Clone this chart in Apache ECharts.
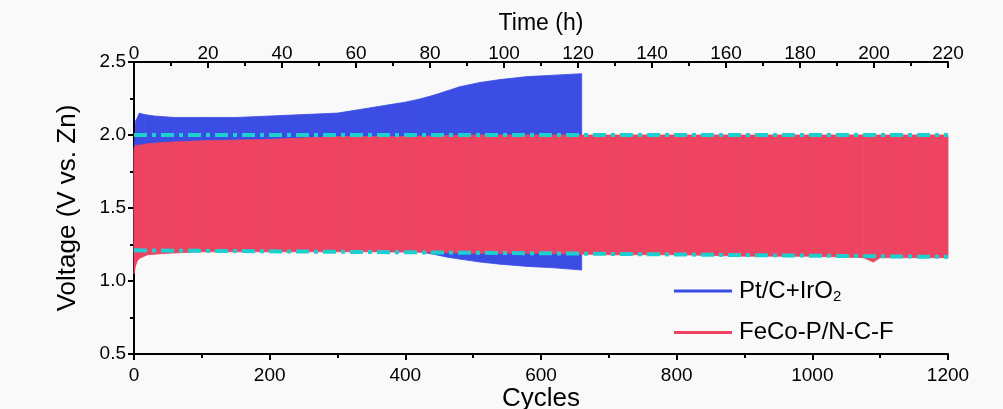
<!DOCTYPE html>
<html>
<head>
<meta charset="utf-8">
<script src="https://cdn.jsdelivr.net/npm/echarts@6/dist/echarts.min.js"></script>
<style>
html,body{margin:0;padding:0;background:#f9f9f9;}
#c{width:1003px;height:409px;}
</style>
</head>
<body>
<div id="c"></div>
<script>
// ---- data ----
const blueX     = [0, 3, 8, 15, 30, 60, 100, 150, 200, 250, 300, 340, 380, 400, 420, 440, 460, 480, 510, 540, 580, 620, 660];
const blueUpper = [1.90, 2.10, 2.15, 2.14, 2.13, 2.12, 2.12, 2.12, 2.13, 2.14, 2.15, 2.18, 2.21, 2.225, 2.245, 2.27, 2.30, 2.33, 2.36, 2.38, 2.40, 2.41, 2.42];
const blueLower = [1.20, 1.20, 1.20, 1.20, 1.20, 1.21, 1.21, 1.21, 1.21, 1.21, 1.21, 1.21, 1.20, 1.20, 1.20, 1.185, 1.165, 1.15, 1.13, 1.115, 1.10, 1.09, 1.075];

const redX     = [0, 2, 5, 10, 20, 50, 100, 200, 300, 400, 500, 600, 700, 800, 900, 1000, 1075, 1090, 1100, 1150, 1200];
const redUpper = [1.90, 1.93, 1.93, 1.93, 1.94, 1.95, 1.96, 1.97, 1.99, 1.99, 2.00, 2.00, 2.00, 2.00, 2.00, 2.00, 2.00, 2.00, 2.00, 2.00, 2.00];
const redLower = [1.05, 1.10, 1.14, 1.16, 1.18, 1.19, 1.20, 1.20, 1.20, 1.20, 1.19, 1.19, 1.18, 1.18, 1.17, 1.17, 1.16, 1.13, 1.16, 1.16, 1.16];

const guideX     = [0, 600, 1200];
const guideUpper = [2.0, 2.0, 2.0];
const guideLower = [1.21, 1.19, 1.165];

const cycleTicks = {min: 0, max: 1200, interval: 200};
const timeTicks  = {min: 0, max: 220, interval: 20};
const voltTicks  = {min: 0.5, max: 2.5, interval: 0.5};

const seriesNames = ['Pt/C+IrO2', 'FeCo-P/N-C-F'];
// ---------------------------------------

const BLUE = '#3b4de3', RED = '#ee4462', CYAN = '#1ecfcf';
const FONT = 'Liberation Sans, Arial, sans-serif';

function pairs(xs, ys) { return xs.map((x, i) => [x, ys[i]]); }
// segment table: [x0, x1, lo0, lo1, up0, up1]
function segments(xs, up, lo) {
  const out = [];
  for (let i = 0; i < xs.length - 1; i++) out.push([xs[i], xs[i + 1], lo[i], lo[i + 1], up[i], up[i + 1]]);
  return out;
}
function bandSeries(name, color, xs, up, lo) {
  return {
    name: name, type: 'custom', xAxisIndex: 0, yAxisIndex: 0,
    itemStyle: {color: color},
    encode: {x: [0, 1], y: [2, 3, 4, 5]},
    data: segments(xs, up, lo),
    renderItem: function (params, api) {
      const a = api.coord([api.value(0), api.value(4)]);
      const b = api.coord([api.value(1), api.value(5)]);
      const c = api.coord([api.value(1), api.value(3)]);
      const d = api.coord([api.value(0), api.value(2)]);
      return {
        type: 'polygon',
        shape: {points: [a, b, c, d]},
        style: {fill: color, stroke: color, lineWidth: 0.8}
      };
    }
  };
}
function guideSeries(ys) {
  return {
    type: 'line', data: pairs(guideX, ys), xAxisIndex: 0, yAxisIndex: 0,
    showSymbol: false, symbol: 'none', z: 5,
    lineStyle: {color: CYAN, width: 4, type: [13, 5, 4, 5]}
  };
}

const axisCommon = {
  axisLine: {show: true, onZero: false, lineStyle: {color: '#000', width: 2}},
  axisTick: {show: true, length: 6, lineStyle: {color: '#000', width: 2}},
  minorTick: {show: true, splitNumber: 2, length: 4, lineStyle: {color: '#000', width: 2}},
  splitLine: {show: false}, minorSplitLine: {show: false},
  axisLabel: {color: '#000', fontSize: 19, fontFamily: FONT, margin: 12, formatter: v => String(v)},
  nameTextStyle: {color: '#000', fontSize: 26, fontFamily: FONT},
  nameLocation: 'middle',
  nameMoveOverlap: false
};

const chart = echarts.init(document.getElementById('c'), null, {renderer: 'canvas'});
chart.setOption({
  backgroundColor: '#f9f9f9',
  animation: false,
  grid: {left: 134, right: 55, top: 62, bottom: 55, containLabel: false, outerBoundsMode: 'none'},
  legend: {
    orient: 'vertical', left: 669, top: 274, itemWidth: 58, itemHeight: 3, itemGap: 16,
    icon: 'rect',
    data: seriesNames,
    textStyle: {
      fontSize: 24, fontFamily: FONT, color: '#000', padding: [0, 0, 0, 2],
      rich: {sub: {fontSize: 15, fontFamily: FONT, color: '#000', verticalAlign: 'bottom', padding: [12, 0, 0, 0]}}
    },
    formatter: function (n) { return n === 'Pt/C+IrO2' ? 'Pt/C+IrO{sub|2}' : n; }
  },
  xAxis: [
    Object.assign({}, axisCommon, {
      type: 'value', position: 'bottom', name: 'Cycles', nameGap: 32,
      min: cycleTicks.min, max: cycleTicks.max, interval: cycleTicks.interval
    }),
    Object.assign({}, axisCommon, {
      type: 'value', position: 'top', name: 'Time (h)', nameGap: 27,
      nameTextStyle: {color: '#000', fontSize: 23, fontFamily: FONT},
      min: timeTicks.min, max: timeTicks.max, interval: timeTicks.interval,
      axisTick: {show: true, inside: true, length: 6, lineStyle: {color: '#000', width: 2}},
      minorTick: {show: true, splitNumber: 2, length: 4, lineStyle: {color: '#000', width: 2}},
      axisLabel: {color: '#000', fontSize: 19, fontFamily: FONT, margin: -1, formatter: v => String(v)}
    })
  ],
  yAxis: [
    Object.assign({}, axisCommon, {
      type: 'value', position: 'left', name: 'Voltage (V vs. Zn)', nameGap: 53,
      min: voltTicks.min, max: voltTicks.max, interval: voltTicks.interval,
      axisLabel: {color: '#000', fontSize: 19, fontFamily: FONT, margin: 8,
        formatter: v => v.toFixed(1)}
    }),
    {
      type: 'value', position: 'right', min: voltTicks.min, max: voltTicks.max,
      axisLine: {show: true, lineStyle: {color: '#000', width: 2}},
      axisTick: {show: false}, axisLabel: {show: false}, splitLine: {show: false}
    }
  ],
  series: [
    bandSeries(seriesNames[0], BLUE, blueX, blueUpper, blueLower),
    bandSeries(seriesNames[1], RED, redX, redUpper, redLower),
    guideSeries(guideUpper),
    guideSeries(guideLower)
  ]
});
</script>
</body>
</html>
